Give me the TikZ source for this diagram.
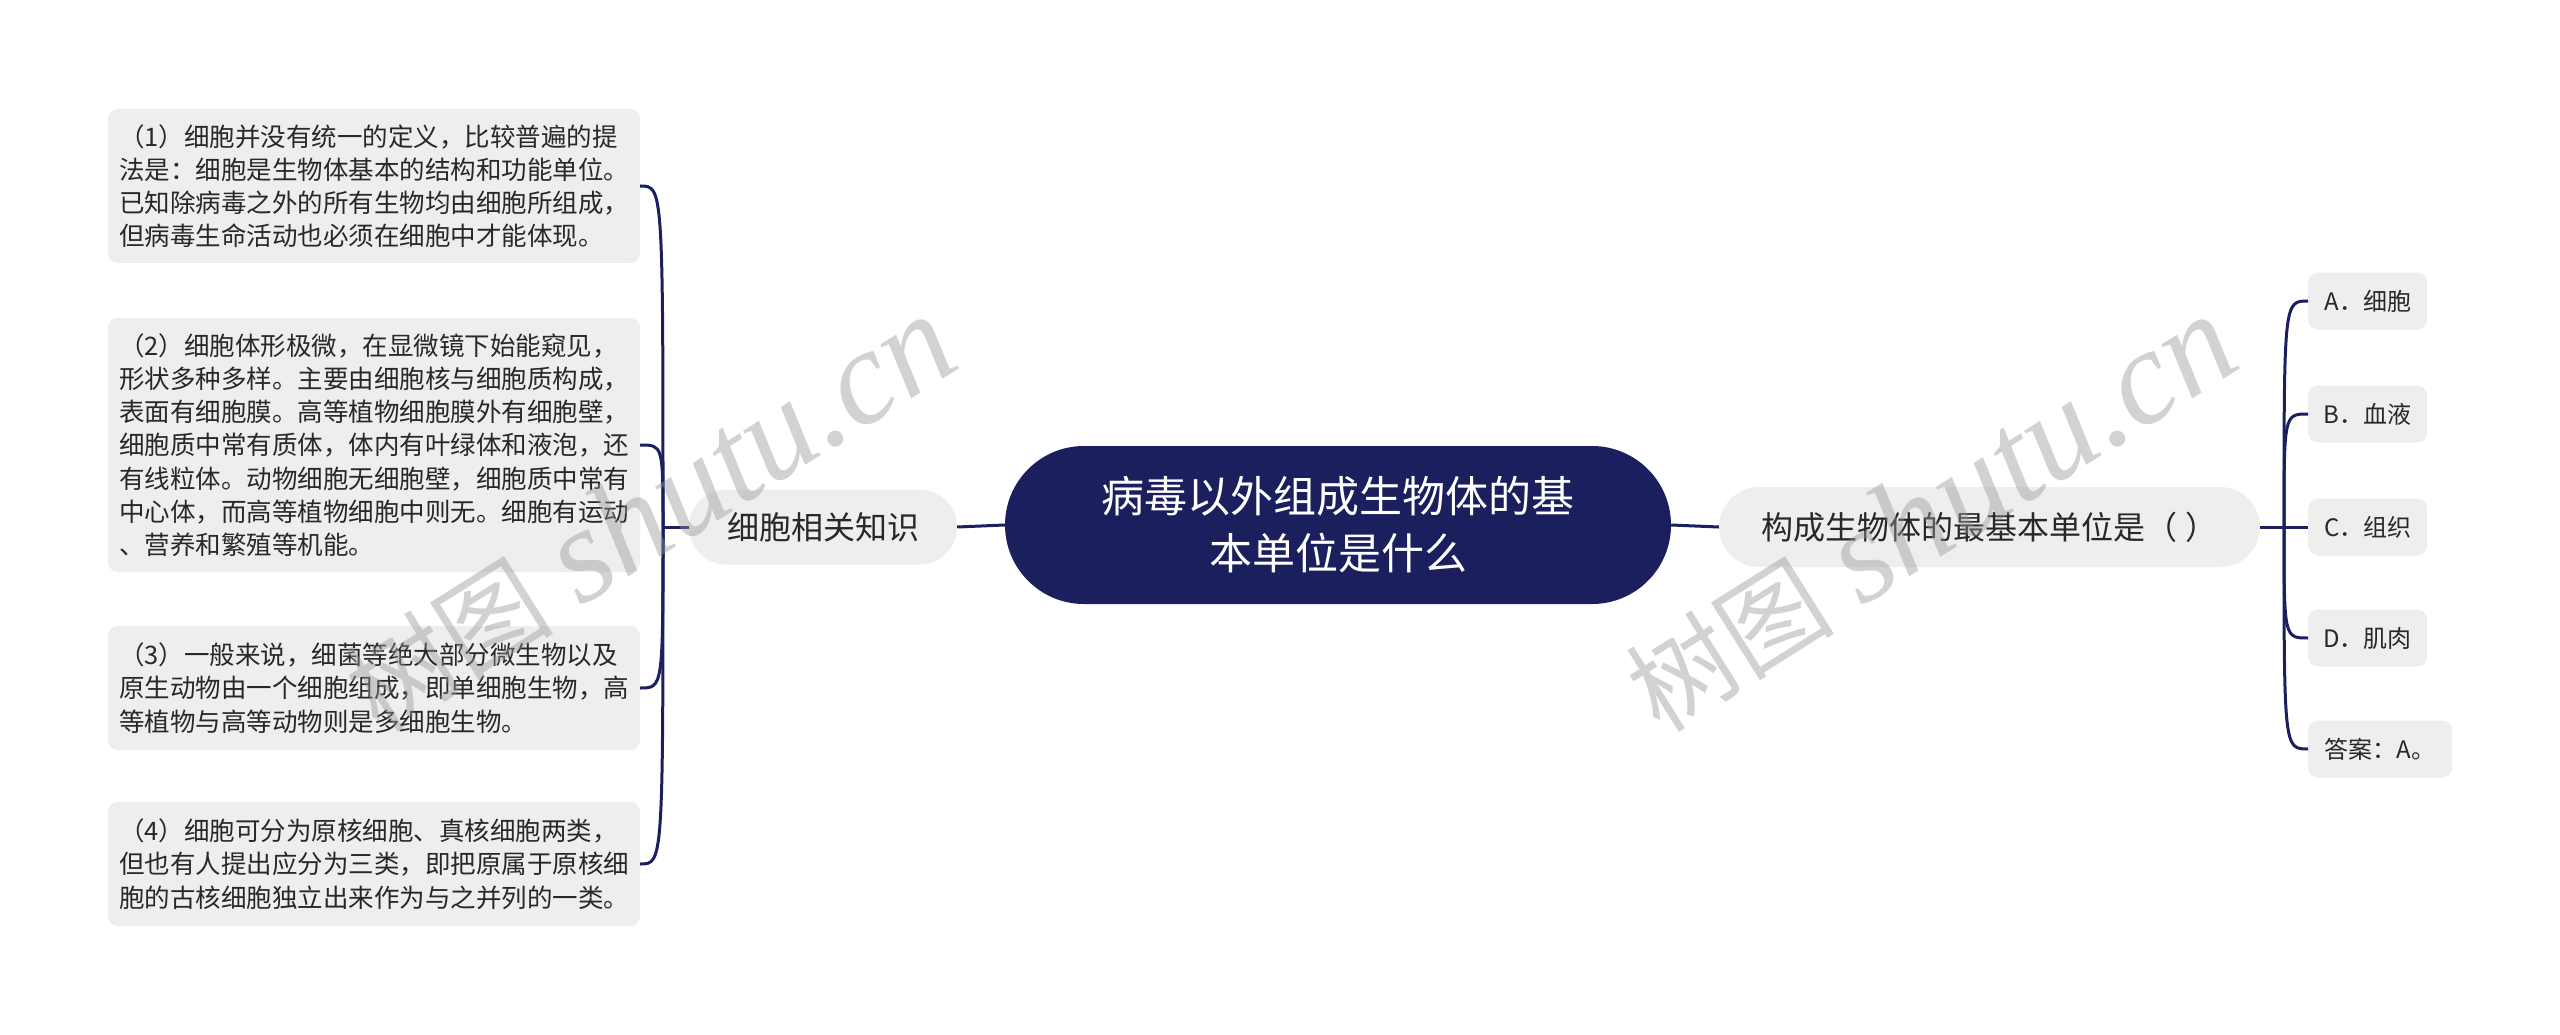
\documentclass[tikz,border=0pt]{standalone}
\usepackage{fontspec}
\setmainfont{Noto Sans CJK SC}
\newfontfamily\wmlatin{Liberation Serif}
\newfontfamily\wmcjk{Noto Sans CJK SC}
\definecolor{navy}{RGB}{27,31,94}
\definecolor{boxgray}{RGB}{238,238,238}
\definecolor{txt}{RGB}{40,40,40}
\definecolor{wm}{RGB}{150,150,150}
\tikzset{
  conn/.style={draw=navy, line width=3pt},
  leaf/.style={fill=boxgray, rounded corners=10pt, text=txt, inner xsep=11pt, inner ysep=0pt,
     font=\fontsize{25.5}{33.2}\selectfont, align=left, text width=510pt, anchor=center},
  opt/.style={fill=boxgray, rounded corners=10pt, text=txt, inner xsep=13pt, inner ysep=0pt,
     font=\fontsize{24}{30}\selectfont, minimum height=57pt, anchor=west},
  pill/.style={fill=boxgray, text=txt, inner sep=0pt, font=\fontsize{32}{40}\selectfont},
  root/.style={fill=navy, text=white, inner sep=0pt, align=center,
     font=\fontsize{43}{57}\selectfont, minimum width=666pt, minimum height=158pt, rounded corners=79pt},
  wmark/.style={text=wm, opacity=0.42, rotate=32.2, inner sep=0pt}
}
\newcommand{\wmtext}{{\wmcjk\fontsize{105}{105}\selectfont 树图}\hspace{28pt}{\wmlatin\itshape\fontsize{135}{135}\selectfont shutu.cn}}
\begin{document}
\begin{tikzpicture}[x=1pt,y=-1pt]
\useasboundingbox[fill=white] (0,0) rectangle (2560,1035);

% central
\node[root] (c) at (1338,525) {病毒以外组成生物体的基\\本单位是什么};

% main branches
\node[pill, minimum width=268pt, minimum height=75pt, rounded corners=37.5pt] (l) at (823,527) {细胞相关知识};
\node[pill, minimum width=541pt, minimum height=80pt, rounded corners=40pt] (r) at (1989.5,527) {构成生物体的最基本单位是（ ）};

\draw[conn] (c.west) -- (l.east);
\draw[conn] (c.east) -- (r.west);

% left leaves
\node[leaf, minimum height=154pt] (b1) at (374,186) {（1）细胞并没有统一的定义，比较普遍的提\\法是：细胞是生物体基本的结构和功能单位。\\已知除病毒之外的所有生物均由细胞所组成，\\但病毒生命活动也必须在细胞中才能体现。};
\node[leaf, minimum height=254pt] (b2) at (374,445) {（2）细胞体形极微，在显微镜下始能窥见，\\形状多种多样。主要由细胞核与细胞质构成，\\表面有细胞膜。高等植物细胞膜外有细胞壁，\\细胞质中常有质体，体内有叶绿体和液泡，还\\有线粒体。动物细胞无细胞壁，细胞质中常有\\中心体，而高等植物细胞中则无。细胞有运动\\、营养和繁殖等机能。};
\node[leaf, minimum height=124pt] (b3) at (374,688) {（3）一般来说，细菌等绝大部分微生物以及\\原生动物由一个细胞组成，即单细胞生物，高\\等植物与高等动物则是多细胞生物。};
\node[leaf, minimum height=124pt] (b4) at (374,864) {（4）细胞可分为原核细胞、真核细胞两类，\\但也有人提出应分为三类，即把原属于原核细\\胞的古核细胞独立出来作为与之并列的一类。};

\coordinate (lb) at (663,527);
\draw[conn] (l.west) -- (lb);
\foreach \b in {b1,b2,b3,b4}{
  \draw[conn] (lb) .. controls (lb |- \b.east) and (lb |- \b.east) .. (\b.east);
}

% right options
\node[opt, minimum width=119pt] (oa) at (2308,301) {A．细胞};
\node[opt, minimum width=119pt] (ob) at (2308,414) {B．血液};
\node[opt, minimum width=119pt] (oc) at (2308,527) {C．组织};
\node[opt, minimum width=119pt] (od) at (2308,638) {D．肌肉};
\node[opt, minimum width=144pt] (oe) at (2308,749) {答案：A。};

\coordinate (rb) at (2284,527);
\draw[conn] (r.east) -- (rb);
\foreach \o in {oa,ob,oc,od,oe}{
  \draw[conn] (rb) .. controls (rb |- \o.west) and (rb |- \o.west) .. (\o.west);
}

% watermarks
\node[wmark] (w1) at (649,514) {\wmtext};
\node[wmark] (w2) at (1930,514) {\wmtext};
\end{tikzpicture}
\end{document}
